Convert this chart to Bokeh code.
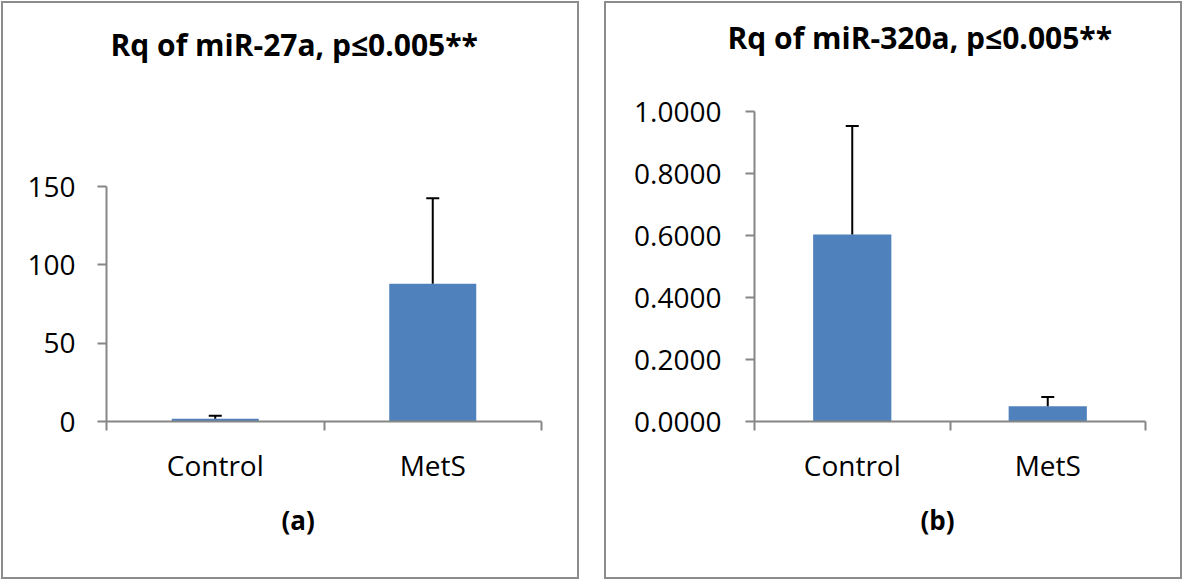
from bokeh.plotting import figure
from bokeh.layouts import row
from bokeh.models import (ColumnDataSource, Range1d, FixedTicker, Whisker, TeeHead,
                          Title, PrintfTickFormatter)
from bokeh.embed import file_html
from bokeh.resources import INLINE

# ---------------- data ----------------
categories = ["Control", "MetS"]

mir27a_mean = [1.7, 88.0]
mir27a_err = [2.0, 54.5]
mir27a_ticks = [0, 50, 100, 150]

mir320a_mean = [0.603, 0.049]
mir320a_err = [0.350, 0.030]
mir320a_ticks = [0.0, 0.2, 0.4, 0.6, 0.8, 1.0]

titles = ["Rq of miR-27a, p\u22640.005**", "Rq of miR-320a, p\u22640.005**"]
panel_tags = ["(a)", "(b)"]

# ---------------- style ----------------
BAR = "#4F81BD"
AXIS = "#868686"
BORDER = "#8c8c8c"
FONT = "Open Sans"
PW, PH = 578, 578
FRAME_TOP, FRAME_BOTTOM = 108, 418   # inside each panel's canvas


def panel(mean, err, yticks, axis_top, fmt, title, tag, left, right,
          axis_top_px, title_off, title_gap, tag_off, standoff, margin):
    xs = [i + 0.5 for i in range(len(categories))]
    # y range chosen so that the axis top lands at axis_top_px inside the panel
    frame_h = FRAME_BOTTOM - FRAME_TOP
    ymax = axis_top * frame_h / (FRAME_BOTTOM - axis_top_px)
    src = ColumnDataSource(dict(
        x=xs, top=mean, upper=[m + e for m, e in zip(mean, err)]))
    p = figure(width=PW, height=PH, x_range=Range1d(0, len(categories)),
               y_range=Range1d(0, ymax), output_backend="svg",
               toolbar_location=None, min_border_left=left,
               min_border_right=right, min_border_top=FRAME_TOP,
               min_border_bottom=PH - FRAME_BOTTOM,
               styles={"border": "2px solid " + BORDER}, margin=margin)
    p.outline_line_color = None
    p.grid.visible = False
    p.background_fill_color = "white"
    p.border_fill_color = "white"

    p.vbar(x="x", top="top", bottom=0, width=0.4, source=src,
           fill_color=BAR, line_color=None)
    w = Whisker(base="x", lower="top", upper="upper", source=src,
                line_color="black", line_width=2, lower_head=None,
                upper_head=TeeHead(size=13, line_color="black", line_width=2),
                level="overlay")
    p.add_layout(w)

    # x axis: labels at category centres, tick marks at category boundaries
    xa = p.xaxis[0]
    xa.ticker = FixedTicker(ticks=xs, minor_ticks=list(range(len(categories) + 1)))
    xa.major_label_overrides = {x: c for x, c in zip(xs, categories)}
    xa.major_tick_line_color = None
    xa.major_tick_out = 9
    xa.major_tick_in = 0
    xa.minor_tick_out = 9
    xa.minor_tick_in = 0
    xa.minor_tick_line_color = AXIS
    xa.minor_tick_line_width = 2
    xa.axis_line_color = AXIS
    xa.axis_line_width = 2
    xa.major_label_text_font = FONT
    xa.major_label_text_font_size = "28px"
    xa.major_label_text_color = "black"
    xa.major_label_standoff = 15

    ya = p.yaxis[0]
    ya.ticker = FixedTicker(ticks=yticks)
    ya.bounds = (0, axis_top)
    ya.formatter = PrintfTickFormatter(format=fmt)
    ya.axis_line_color = AXIS
    ya.axis_line_width = 2
    ya.major_tick_line_color = AXIS
    ya.major_tick_line_width = 2
    ya.major_tick_out = 9
    ya.major_tick_in = 0
    ya.minor_tick_line_color = None
    ya.major_label_text_font = FONT
    ya.major_label_text_font_size = "28px"
    ya.major_label_text_color = "black"
    ya.major_label_standoff = standoff

    # spacer keeps the chart title well above the plot area
    p.add_layout(Title(text=" ", text_font_size="1px", standoff=title_gap), "above")
    p.add_layout(Title(text=title, text_font=FONT, text_font_size="30px",
                       text_font_style="bold", align="left", offset=title_off,
                       standoff=0, text_color="black"), "above")
    p.add_layout(Title(text=tag, text_font=FONT, text_font_size="26px",
                       text_font_style="bold", align="left", offset=tag_off,
                       standoff=27, text_color="black"), "below")
    return p


p1 = panel(mir27a_mean, mir27a_err, mir27a_ticks, 150, "%d", titles[0], panel_tags[0],
           left=103, right=40, axis_top_px=183, title_off=4, title_gap=44,
           tag_off=175, standoff=22, margin=(1, 0, 0, 1))
p2 = panel(mir320a_mean, mir320a_err, mir320a_ticks, 1.0, "%.4f", titles[1], panel_tags[1],
           left=148, right=39, axis_top_px=FRAME_TOP, title_off=-27, title_gap=51,
           tag_off=166, standoff=24, margin=(1, 0, 0, 25))

layout = row(p1, p2)
open("out.html", "w").write(file_html(layout, INLINE))
